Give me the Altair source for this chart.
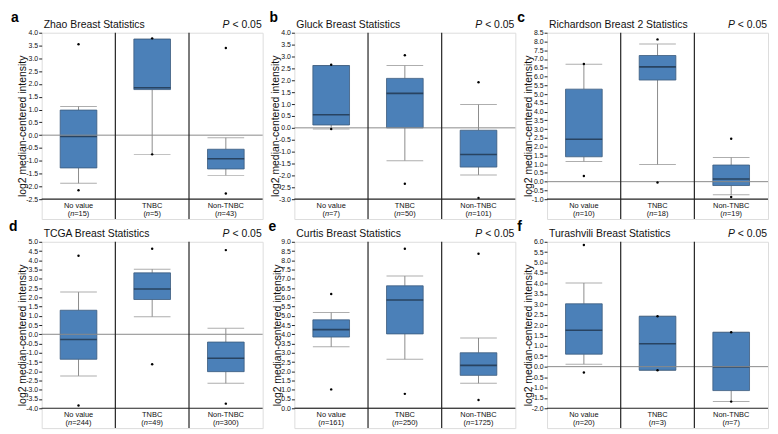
import altair as alt
import pandas as pd
import numpy as np

CATEGORIES = ["No value", "TNBC", "Non-TNBC"]
STAT_COLS = ["lo", "wl", "q1", "med", "q3", "wh", "hi"]

# rows per category: [min dot, lower whisker, Q1, median, Q3, upper whisker, max dot]
ZHAO_BOX = [[-2.15, -1.88, -1.28, -0.05, 0.98, 1.12, 3.55],
            [-0.75, -0.75, 1.78, 1.85, 3.75, 3.75, 3.78],
            [-2.28, -1.57, -1.32, -0.92, -0.55, -0.10, 3.40]]
ZHAO_N = [15, 5, 43]
ZHAO_RANGE = [-2.5, 4.0]

GLUCK_BOX = [[-0.05, -0.05, 0.12, 0.55, 2.62, 2.62, 2.65],
             [-2.35, -1.38, 0.00, 1.45, 2.08, 2.62, 3.05],
             [-2.95, -1.98, -1.65, -1.12, -0.10, 0.98, 1.92]]
GLUCK_N = [7, 50, 101]
GLUCK_RANGE = [-3.0, 4.0]

RICH_BOX = [[0.32, 1.15, 1.42, 2.42, 5.28, 6.70, 6.72],
            [-0.05, 0.98, 5.80, 6.55, 7.20, 7.85, 8.12],
            [-0.88, -0.75, -0.22, 0.15, 0.95, 1.38, 2.45]]
RICH_N = [10, 18, 19]
RICH_RANGE = [-1.0, 8.5]

TCGA_BOX = [[-3.85, -2.25, -1.35, -0.28, 1.30, 2.28, 4.25],
            [-1.62, 0.95, 1.88, 2.45, 3.32, 3.52, 4.62],
            [-3.75, -2.65, -2.02, -1.30, -0.42, 0.32, 4.55]]
TCGA_N = [244, 49, 300]
TCGA_RANGE = [-4.0, 5.0]

CURTIS_BOX = [[1.02, 3.32, 3.85, 4.25, 4.78, 5.18, 6.18],
              [0.78, 2.65, 4.02, 5.85, 6.62, 7.15, 8.62],
              [0.45, 1.35, 1.78, 2.32, 3.00, 3.80, 8.35]]
CURTIS_N = [161, 250, 1725]
CURTIS_RANGE = [0.0, 9.0]

TURA_BOX = [[-0.28, 0.12, 0.60, 1.75, 3.02, 4.02, 5.85],
            [-0.17, -0.17, -0.17, 1.10, 2.42, 2.42, 2.42],
            [-1.68, -1.68, -1.15, -0.02, 1.65, 1.65, 1.65]]
TURA_N = [20, 3, 7]
TURA_RANGE = [-2.0, 6.0]

W = 223
HP = 168
HL = 20
BOXW = 37
FONT = "Liberation Sans"
FILL = "#4b80b8"
STROKE = "#3a5a7c"
WHISK = "#8c8c8c"
MEDC = "#1a2a3c"
FRAME = "#222222"
ZEROC = "#8a8a8a"
YTITLE = "log2 median-centered intensity"

EM = {"(": 0.333, ")": 0.333, "n": 0.556, "=": 0.584, "<": 0.584, " ": 0.278, ".": 0.278}


def tw(s, fs):
    return sum(EM.get(ch, 0.556) for ch in s) * fs


def panel(letter, letter_dx, title, rows, ns, yrange):
    ymin, ymax = yrange
    df = pd.DataFrame(rows, columns=STAT_COLS)
    df["cat"] = CATEGORIES
    df["n"] = ns
    one = pd.DataFrame({"z": [0]})
    ext = (ymax - ymin) * HL / HP
    yscale = alt.Scale(domain=[ymin - ext, ymax], nice=False, zero=False)
    ticks = [float(round(v, 1)) for v in np.arange(ymin, ymax + 0.001, 0.5)]
    yaxis = alt.Axis(values=ticks, title=YTITLE, grid=False, domain=False,
                     labelExpr="(datum.value < 0 ? '-' : '') + format(abs(datum.value), '.1f')",
                     labelOverlap=False, labelBound=False, labelFlush=False,
                     tickSize=3, tickColor=FRAME, labelFontSize=7, labelPadding=1,
                     labelColor="#111", titleFontSize=10.5, titleFontWeight="normal",
                     titlePadding=-2, titleColor="#111", labelFont=FONT, titleFont=FONT)

    def Y(f):
        return alt.Y(f, type="quantitative", scale=yscale, axis=yaxis, title=YTITLE)

    def YD(v):
        return alt.YDatum(v, scale=yscale, axis=yaxis, title=YTITLE)

    xenc = alt.X("cat:N", sort=CATEGORIES,
                 scale=alt.Scale(paddingInner=0, paddingOuter=0), axis=None)
    base = alt.Chart(df)
    layers = []
    layers.append(base.mark_rule(color=WHISK, strokeWidth=1).encode(x=xenc, y=Y("wl"), y2="q1"))
    layers.append(base.mark_rule(color=WHISK, strokeWidth=1).encode(x=xenc, y=Y("q3"), y2="wh"))
    layers.append(base.mark_tick(color=WHISK, size=BOXW, thickness=1).encode(x=xenc, y=Y("wl")))
    layers.append(base.mark_tick(color=WHISK, size=BOXW, thickness=1).encode(x=xenc, y=Y("wh")))
    layers.append(base.mark_bar(size=BOXW, color=FILL, stroke=STROKE, strokeWidth=0.8)
                  .encode(x=xenc, y=Y("q1"), y2="q3"))
    layers.append(base.mark_tick(color=MEDC, size=BOXW, thickness=1.6).encode(x=xenc, y=Y("med")))
    layers.append(alt.Chart(one).mark_rule(color=ZEROC, strokeWidth=1).encode(y=YD(0)))
    layers.append(base.transform_fold(["lo", "hi"], as_=["k", "v"])
                  .mark_point(filled=True, size=6, color="black", opacity=1)
                  .encode(x=xenc, y=Y("v")))
    layers.append(alt.Chart(one).mark_rule(color=FRAME, strokeWidth=1.2).encode(y=YD(ymin)))
    layers.append(base.transform_filter(alt.FieldOneOfPredicate(field="cat", oneOf=CATEGORIES[1:]))
                  .mark_rule(color=FRAME, strokeWidth=1.2)
                  .encode(x=alt.X("cat:N", sort=CATEGORIES, bandPosition=0,
                                  scale=alt.Scale(paddingInner=0, paddingOuter=0), axis=None)))
    # category labels
    fs = 7.5
    layers.append(base.mark_text(fontSize=fs, font=FONT, baseline="alphabetic", color="#111")
                  .encode(x=xenc, y=YD(ymin - ext * 8.5 / HL), text="cat:N"))
    yn = ymin - ext * 17 / HL
    for c, n in zip(CATEGORIES, ns):
        rest = "=%d)" % n
        total = tw("(", fs) + tw("n", fs) + tw(rest, fs)
        start = -total / 2
        sub = base.transform_filter(alt.FieldEqualPredicate(field="cat", equal=c))
        layers.append(sub.mark_text(text="(", fontSize=fs, font=FONT, align="left",
                                    baseline="alphabetic", dx=start, color="#111")
                      .encode(x=xenc, y=YD(yn)))
        layers.append(sub.mark_text(text="n", fontSize=fs, font=FONT, fontStyle="italic", align="left",
                                    baseline="alphabetic", dx=start + tw("(", fs), color="#111")
                      .encode(x=xenc, y=YD(yn)))
        layers.append(sub.mark_text(text=rest, fontSize=fs, font=FONT, align="left",
                                    baseline="alphabetic", dx=start + tw("(n", fs), color="#111")
                      .encode(x=xenc, y=YD(yn)))
    # header
    hfs = 10.5
    layers.append(alt.Chart(one).mark_text(text=title, fontSize=hfs, font=FONT, align="left",
                                           fontWeight="normal", baseline="alphabetic", color="#111")
                  .encode(x=alt.value(2), y=alt.value(-5)))
    layers.append(alt.Chart(one).mark_text(text="< 0.05", fontSize=hfs, font=FONT, align="right",
                                           fontWeight="normal", baseline="alphabetic", color="#111")
                  .encode(x=alt.value(W - 1), y=alt.value(-5)))
    layers.append(alt.Chart(one).mark_text(text="P", fontSize=hfs, font=FONT, fontStyle="italic",
                                           fontWeight="normal", align="right", baseline="alphabetic",
                                           color="#111")
                  .encode(x=alt.value(W - 1 - tw("< 0.05", hfs) - tw(" ", hfs)), y=alt.value(-5)))
    layers.append(alt.Chart(one).mark_text(text=letter, fontSize=14, font=FONT, fontWeight="bold",
                                           align="left", baseline="alphabetic", color="#000")
                  .encode(x=alt.value(letter_dx), y=alt.value(-11)))
    return alt.layer(*layers).properties(width=W, height=HP + HL)


pa = panel("a", -31, "Zhao Breast Statistics", ZHAO_BOX, ZHAO_N, ZHAO_RANGE)
pb = panel("b", -25, "Gluck Breast Statistics", GLUCK_BOX, GLUCK_N, GLUCK_RANGE)
pc = panel("c", -30, "Richardson Breast 2 Statistics", RICH_BOX, RICH_N, RICH_RANGE)
pd_ = panel("d", -33, "TCGA Breast Statistics", TCGA_BOX, TCGA_N, TCGA_RANGE)
pe = panel("e", -26, "Curtis Breast Statistics", CURTIS_BOX, CURTIS_N, CURTIS_RANGE)
pf = panel("f", -30, "Turashvili Breast Statistics", TURA_BOX, TURA_N, TURA_RANGE)

chart = (alt.concat(pa, pb, pc, pd_, pe, pf, columns=3, bounds="flush",
                    spacing={"row": 23, "column": 32})
         .properties(padding=0)
         .configure_view(stroke=FRAME, strokeWidth=1.2)
         .configure_axis(labelOverlap=False)
         .configure(font=FONT))

chart.save("out.html", embed_options={"renderer": "svg", "actions": False})
